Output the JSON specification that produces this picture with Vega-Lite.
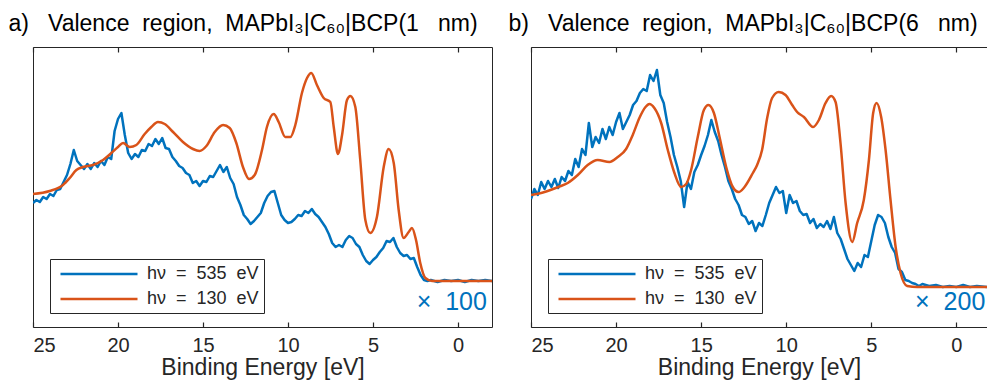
{
  "$schema": "https://vega.github.io/schema/vega-lite/v6.json",
  "padding": {"left": 7, "top": 12, "right": 0, "bottom": 0},
  "background": "white",
  "spacing": 14,
  "config": {
    "font": "Liberation Sans",
    "view": {"stroke": "#262626", "strokeWidth": 1},
    "axis": {"grid": false, "domain": false, "zindex": 2, "tickColor": "#262626", "labelColor": "#262626", "titleColor": "#262626", "titleFontWeight": "normal", "labelFontSize": 20, "titleFontSize": 23, "labelFont": "Liberation Sans", "titleFont": "Liberation Sans"},
    "title": {"fontSize": 23, "fontWeight": "normal", "color": "#000000", "anchor": "start", "font": "Liberation Sans"}
  },
  "datasets": {
    "a": [
      {"E":25.0,"I":124,"s":"535"},{"E":24.8,"I":127,"s":"535"},{"E":24.6,"I":125,"s":"535"},{"E":24.4,"I":130,"s":"535"},{"E":24.2,"I":128,"s":"535"},{"E":24.0,"I":133,"s":"535"},{"E":23.8,"I":131,"s":"535"},{"E":23.6,"I":137,"s":"535"},{"E":23.4,"I":138,"s":"535"},{"E":23.2,"I":145,"s":"535"},{"E":23.0,"I":152,"s":"535"},{"E":22.8,"I":163,"s":"535"},{"E":22.6,"I":177,"s":"535"},{"E":22.4,"I":166,"s":"535"},{"E":22.2,"I":162,"s":"535"},{"E":22.0,"I":158,"s":"535"},{"E":21.8,"I":163,"s":"535"},{"E":21.6,"I":158,"s":"535"},{"E":21.4,"I":164,"s":"535"},{"E":21.2,"I":160,"s":"535"},{"E":21.0,"I":166,"s":"535"},{"E":20.8,"I":162,"s":"535"},{"E":20.6,"I":170,"s":"535"},{"E":20.4,"I":168,"s":"535"},{"E":20.2,"I":196,"s":"535"},{"E":20.0,"I":208,"s":"535"},{"E":19.8,"I":214,"s":"535"},{"E":19.6,"I":192,"s":"535"},{"E":19.4,"I":174,"s":"535"},{"E":19.2,"I":168,"s":"535"},{"E":19.0,"I":173,"s":"535"},{"E":18.8,"I":170,"s":"535"},{"E":18.6,"I":177,"s":"535"},{"E":18.4,"I":176,"s":"535"},{"E":18.2,"I":183,"s":"535"},{"E":18.0,"I":181,"s":"535"},{"E":17.8,"I":188,"s":"535"},{"E":17.6,"I":183,"s":"535"},{"E":17.4,"I":189,"s":"535"},{"E":17.2,"I":179,"s":"535"},{"E":17.0,"I":178,"s":"535"},{"E":16.8,"I":170,"s":"535"},{"E":16.6,"I":166,"s":"535"},{"E":16.4,"I":161,"s":"535"},{"E":16.2,"I":159,"s":"535"},{"E":16.0,"I":154,"s":"535"},{"E":15.8,"I":152,"s":"535"},{"E":15.6,"I":144,"s":"535"},{"E":15.4,"I":146,"s":"535"},{"E":15.2,"I":141,"s":"535"},{"E":15.0,"I":146,"s":"535"},{"E":14.8,"I":145,"s":"535"},{"E":14.6,"I":151,"s":"535"},{"E":14.4,"I":150,"s":"535"},{"E":14.2,"I":156,"s":"535"},{"E":14.0,"I":162,"s":"535"},{"E":13.8,"I":155,"s":"535"},{"E":13.6,"I":160,"s":"535"},{"E":13.4,"I":149,"s":"535"},{"E":13.2,"I":143,"s":"535"},{"E":13.0,"I":130,"s":"535"},{"E":12.8,"I":122,"s":"535"},{"E":12.6,"I":112,"s":"535"},{"E":12.4,"I":108,"s":"535"},{"E":12.2,"I":103,"s":"535"},{"E":12.0,"I":106,"s":"535"},{"E":11.8,"I":110,"s":"535"},{"E":11.6,"I":114,"s":"535"},{"E":11.4,"I":124,"s":"535"},{"E":11.2,"I":131,"s":"535"},{"E":11.0,"I":135,"s":"535"},{"E":10.8,"I":136,"s":"535"},{"E":10.6,"I":124,"s":"535"},{"E":10.4,"I":112,"s":"535"},{"E":10.2,"I":107,"s":"535"},{"E":10.0,"I":104,"s":"535"},{"E":9.8,"I":105,"s":"535"},{"E":9.6,"I":108,"s":"535"},{"E":9.4,"I":112,"s":"535"},{"E":9.2,"I":111,"s":"535"},{"E":9.0,"I":116,"s":"535"},{"E":8.8,"I":114,"s":"535"},{"E":8.6,"I":118,"s":"535"},{"E":8.4,"I":113,"s":"535"},{"E":8.2,"I":110,"s":"535"},{"E":8.0,"I":105,"s":"535"},{"E":7.8,"I":100,"s":"535"},{"E":7.6,"I":93,"s":"535"},{"E":7.4,"I":84,"s":"535"},{"E":7.2,"I":80,"s":"535"},{"E":7.0,"I":82,"s":"535"},{"E":6.8,"I":80,"s":"535"},{"E":6.6,"I":87,"s":"535"},{"E":6.4,"I":91,"s":"535"},{"E":6.2,"I":89,"s":"535"},{"E":6.0,"I":83,"s":"535"},{"E":5.8,"I":80,"s":"535"},{"E":5.6,"I":72,"s":"535"},{"E":5.4,"I":66,"s":"535"},{"E":5.2,"I":63,"s":"535"},{"E":5.0,"I":67,"s":"535"},{"E":4.8,"I":70,"s":"535"},{"E":4.6,"I":75,"s":"535"},{"E":4.4,"I":79,"s":"535"},{"E":4.2,"I":86,"s":"535"},{"E":4.0,"I":85,"s":"535"},{"E":3.8,"I":89,"s":"535"},{"E":3.6,"I":80,"s":"535"},{"E":3.4,"I":74,"s":"535"},{"E":3.2,"I":71,"s":"535"},{"E":3.0,"I":72,"s":"535"},{"E":2.8,"I":68,"s":"535"},{"E":2.6,"I":69,"s":"535"},{"E":2.4,"I":60,"s":"535"},{"E":2.2,"I":52,"s":"535"},{"E":2.0,"I":47,"s":"535"},{"E":1.8,"I":46,"s":"535"},{"E":1.6,"I":47,"s":"535"},{"E":1.2,"I":45,"s":"535"},{"E":0.8,"I":47,"s":"535"},{"E":0.4,"I":46,"s":"535"},{"E":0.0,"I":47,"s":"535"},{"E":-0.4,"I":45,"s":"535"},{"E":-0.8,"I":47,"s":"535"},{"E":-1.2,"I":46,"s":"535"},{"E":-1.6,"I":47,"s":"535"},{"E":-2.0,"I":46,"s":"535"},
      {"E":25,"I":133,"s":"130"},{"E":24.02,"I":136,"s":"130"},{"E":23.24,"I":142,"s":"130"},{"E":22.84,"I":149,"s":"130"},{"E":22.45,"I":157,"s":"130"},{"E":22.06,"I":160,"s":"130"},{"E":21.47,"I":162,"s":"130"},{"E":20.88,"I":167,"s":"130"},{"E":20.39,"I":174,"s":"130"},{"E":20.0,"I":180,"s":"130"},{"E":19.7,"I":184,"s":"130"},{"E":19.31,"I":180,"s":"130"},{"E":18.92,"I":182,"s":"130"},{"E":18.43,"I":193,"s":"130"},{"E":18.04,"I":200,"s":"130"},{"E":17.65,"I":205,"s":"130"},{"E":17.25,"I":203,"s":"130"},{"E":16.76,"I":195,"s":"130"},{"E":16.18,"I":185,"s":"130"},{"E":15.59,"I":178,"s":"130"},{"E":15.2,"I":176,"s":"130"},{"E":14.8,"I":181,"s":"130"},{"E":14.31,"I":195,"s":"130"},{"E":13.82,"I":202,"s":"130"},{"E":13.43,"I":199,"s":"130"},{"E":13.04,"I":184,"s":"130"},{"E":12.65,"I":160,"s":"130"},{"E":12.29,"I":148,"s":"130"},{"E":11.96,"I":152,"s":"130"},{"E":11.53,"I":177,"s":"130"},{"E":11.24,"I":200,"s":"130"},{"E":10.84,"I":213,"s":"130"},{"E":10.55,"I":205,"s":"130"},{"E":10.16,"I":190,"s":"130"},{"E":9.86,"I":190,"s":"130"},{"E":9.57,"I":202,"s":"130"},{"E":9.18,"I":234,"s":"130"},{"E":8.88,"I":249,"s":"130"},{"E":8.63,"I":254,"s":"130"},{"E":8.3,"I":242,"s":"130"},{"E":7.9,"I":229,"s":"130"},{"E":7.51,"I":225,"s":"130"},{"E":7.31,"I":200,"s":"130"},{"E":7.06,"I":173,"s":"130"},{"E":6.82,"I":192,"s":"130"},{"E":6.53,"I":227,"s":"130"},{"E":6.33,"I":231,"s":"130"},{"E":6.04,"I":220,"s":"130"},{"E":5.75,"I":167,"s":"130"},{"E":5.45,"I":107,"s":"130"},{"E":5.16,"I":94,"s":"130"},{"E":4.77,"I":110,"s":"130"},{"E":4.37,"I":160,"s":"130"},{"E":4.08,"I":178,"s":"130"},{"E":3.78,"I":164,"s":"130"},{"E":3.49,"I":117,"s":"130"},{"E":3.2,"I":89,"s":"130"},{"E":2.9,"I":95,"s":"130"},{"E":2.71,"I":99,"s":"130"},{"E":2.47,"I":87,"s":"130"},{"E":2.22,"I":64,"s":"130"},{"E":1.92,"I":49,"s":"130"},{"E":1.53,"I":46,"s":"130"},{"E":-2,"I":46,"s":"130"}
    ],
    "b": [
      {"E":25.0,"I":128,"s":"535"},{"E":24.8,"I":138,"s":"535"},{"E":24.6,"I":132,"s":"535"},{"E":24.4,"I":145,"s":"535"},{"E":24.2,"I":138,"s":"535"},{"E":24.0,"I":146,"s":"535"},{"E":23.8,"I":140,"s":"535"},{"E":23.6,"I":148,"s":"535"},{"E":23.4,"I":139,"s":"535"},{"E":23.2,"I":150,"s":"535"},{"E":23.0,"I":146,"s":"535"},{"E":22.8,"I":156,"s":"535"},{"E":22.6,"I":152,"s":"535"},{"E":22.4,"I":168,"s":"535"},{"E":22.2,"I":160,"s":"535"},{"E":22.0,"I":178,"s":"535"},{"E":21.8,"I":172,"s":"535"},{"E":21.6,"I":204,"s":"535"},{"E":21.4,"I":180,"s":"535"},{"E":21.2,"I":190,"s":"535"},{"E":21.0,"I":184,"s":"535"},{"E":20.8,"I":198,"s":"535"},{"E":20.6,"I":188,"s":"535"},{"E":20.4,"I":200,"s":"535"},{"E":20.2,"I":192,"s":"535"},{"E":20.0,"I":205,"s":"535"},{"E":19.8,"I":214,"s":"535"},{"E":19.6,"I":198,"s":"535"},{"E":19.4,"I":205,"s":"535"},{"E":19.2,"I":212,"s":"535"},{"E":19.0,"I":222,"s":"535"},{"E":18.8,"I":226,"s":"535"},{"E":18.6,"I":234,"s":"535"},{"E":18.4,"I":238,"s":"535"},{"E":18.2,"I":236,"s":"535"},{"E":18.0,"I":252,"s":"535"},{"E":17.8,"I":246,"s":"535"},{"E":17.6,"I":257,"s":"535"},{"E":17.4,"I":232,"s":"535"},{"E":17.2,"I":224,"s":"535"},{"E":17.0,"I":205,"s":"535"},{"E":16.8,"I":190,"s":"535"},{"E":16.6,"I":172,"s":"535"},{"E":16.4,"I":160,"s":"535"},{"E":16.2,"I":146,"s":"535"},{"E":16.0,"I":120,"s":"535"},{"E":15.8,"I":145,"s":"535"},{"E":15.6,"I":138,"s":"535"},{"E":15.4,"I":155,"s":"535"},{"E":15.2,"I":162,"s":"535"},{"E":15.0,"I":172,"s":"535"},{"E":14.8,"I":181,"s":"535"},{"E":14.6,"I":192,"s":"535"},{"E":14.4,"I":207,"s":"535"},{"E":14.2,"I":195,"s":"535"},{"E":14.0,"I":186,"s":"535"},{"E":13.8,"I":172,"s":"535"},{"E":13.6,"I":160,"s":"535"},{"E":13.4,"I":146,"s":"535"},{"E":13.2,"I":138,"s":"535"},{"E":13.0,"I":128,"s":"535"},{"E":12.8,"I":122,"s":"535"},{"E":12.6,"I":112,"s":"535"},{"E":12.4,"I":110,"s":"535"},{"E":12.2,"I":103,"s":"535"},{"E":12.0,"I":106,"s":"535"},{"E":11.8,"I":96,"s":"535"},{"E":11.6,"I":104,"s":"535"},{"E":11.4,"I":101,"s":"535"},{"E":11.2,"I":112,"s":"535"},{"E":11.0,"I":124,"s":"535"},{"E":10.8,"I":132,"s":"535"},{"E":10.6,"I":140,"s":"535"},{"E":10.4,"I":134,"s":"535"},{"E":10.2,"I":136,"s":"535"},{"E":10.0,"I":114,"s":"535"},{"E":9.8,"I":132,"s":"535"},{"E":9.6,"I":124,"s":"535"},{"E":9.4,"I":126,"s":"535"},{"E":9.2,"I":116,"s":"535"},{"E":9.0,"I":112,"s":"535"},{"E":8.8,"I":113,"s":"535"},{"E":8.6,"I":104,"s":"535"},{"E":8.4,"I":108,"s":"535"},{"E":8.2,"I":99,"s":"535"},{"E":8.0,"I":103,"s":"535"},{"E":7.8,"I":100,"s":"535"},{"E":7.6,"I":106,"s":"535"},{"E":7.4,"I":98,"s":"535"},{"E":7.2,"I":110,"s":"535"},{"E":7.0,"I":94,"s":"535"},{"E":6.8,"I":88,"s":"535"},{"E":6.6,"I":78,"s":"535"},{"E":6.4,"I":68,"s":"535"},{"E":6.2,"I":62,"s":"535"},{"E":6.0,"I":56,"s":"535"},{"E":5.8,"I":64,"s":"535"},{"E":5.6,"I":60,"s":"535"},{"E":5.4,"I":72,"s":"535"},{"E":5.2,"I":70,"s":"535"},{"E":5.0,"I":86,"s":"535"},{"E":4.8,"I":102,"s":"535"},{"E":4.6,"I":112,"s":"535"},{"E":4.4,"I":110,"s":"535"},{"E":4.2,"I":104,"s":"535"},{"E":4.0,"I":90,"s":"535"},{"E":3.8,"I":80,"s":"535"},{"E":3.6,"I":74,"s":"535"},{"E":3.4,"I":58,"s":"535"},{"E":3.2,"I":55,"s":"535"},{"E":3.0,"I":47,"s":"535"},{"E":2.8,"I":46,"s":"535"},{"E":2.6,"I":44,"s":"535"},{"E":2.4,"I":43,"s":"535"},{"E":2.2,"I":41,"s":"535"},{"E":2.0,"I":43,"s":"535"},{"E":1.6,"I":41,"s":"535"},{"E":1.2,"I":42,"s":"535"},{"E":0.8,"I":40,"s":"535"},{"E":0.4,"I":41,"s":"535"},{"E":0.0,"I":40,"s":"535"},{"E":-0.4,"I":42,"s":"535"},{"E":-0.8,"I":40,"s":"535"},{"E":-1.2,"I":41,"s":"535"},{"E":-1.8,"I":40,"s":"535"},
      {"E":25,"I":132,"s":"130"},{"E":24.2,"I":135,"s":"130"},{"E":23.4,"I":140,"s":"130"},{"E":22.84,"I":144,"s":"130"},{"E":22.25,"I":152,"s":"130"},{"E":21.67,"I":162,"s":"130"},{"E":21.08,"I":167,"s":"130"},{"E":20.39,"I":165,"s":"130"},{"E":19.9,"I":170,"s":"130"},{"E":19.41,"I":178,"s":"130"},{"E":19.02,"I":192,"s":"130"},{"E":18.63,"I":209,"s":"130"},{"E":18.27,"I":220,"s":"130"},{"E":18.04,"I":223,"s":"130"},{"E":17.75,"I":219,"s":"130"},{"E":17.35,"I":204,"s":"130"},{"E":16.96,"I":177,"s":"130"},{"E":16.57,"I":154,"s":"130"},{"E":16.18,"I":140,"s":"130"},{"E":15.88,"I":143,"s":"130"},{"E":15.59,"I":157,"s":"130"},{"E":15.2,"I":190,"s":"130"},{"E":14.84,"I":217,"s":"130"},{"E":14.57,"I":222,"s":"130"},{"E":14.25,"I":214,"s":"130"},{"E":13.92,"I":190,"s":"130"},{"E":13.53,"I":160,"s":"130"},{"E":13.14,"I":140,"s":"130"},{"E":12.8,"I":135,"s":"130"},{"E":12.45,"I":140,"s":"130"},{"E":11.96,"I":154,"s":"130"},{"E":11.71,"I":162,"s":"130"},{"E":11.42,"I":177,"s":"130"},{"E":11.12,"I":209,"s":"130"},{"E":10.83,"I":229,"s":"130"},{"E":10.44,"I":235,"s":"130"},{"E":10.04,"I":232,"s":"130"},{"E":9.65,"I":222,"s":"130"},{"E":9.36,"I":215,"s":"130"},{"E":8.96,"I":210,"s":"130"},{"E":8.42,"I":200,"s":"130"},{"E":8.08,"I":207,"s":"130"},{"E":7.69,"I":224,"s":"130"},{"E":7.36,"I":231,"s":"130"},{"E":7.1,"I":225,"s":"130"},{"E":6.81,"I":184,"s":"130"},{"E":6.51,"I":124,"s":"130"},{"E":6.12,"I":85,"s":"130"},{"E":5.83,"I":104,"s":"130"},{"E":5.44,"I":127,"s":"130"},{"E":5.14,"I":167,"s":"130"},{"E":4.89,"I":214,"s":"130"},{"E":4.69,"I":224,"s":"130"},{"E":4.42,"I":210,"s":"130"},{"E":4.16,"I":177,"s":"130"},{"E":3.87,"I":127,"s":"130"},{"E":3.57,"I":80,"s":"130"},{"E":3.28,"I":54,"s":"130"},{"E":2.89,"I":41,"s":"130"},{"E":2.3,"I":40,"s":"130"},{"E":-1.8,"I":40,"s":"130"}
    ]
  },
  "hconcat": [
    {
      "width": 459, "height": 280,
      "title": {"text": "a)\u00a0\u00a0\u00a0Valence\u00a0\u00a0region,\u00a0\u00a0MAPbI₃|C₆₀|BCP(1\u00a0\u00a0\u00a0nm)", "dx": -24, "offset": 10},
      "data": {"name": "a"},
      "layer": [
        {
          "transform": [{"filter": "datum.s == '535'"}],
          "mark": {"type": "line", "strokeWidth": 2.5, "clip": true, "strokeJoin": "round"},
          "encoding": {
            "x": {"field": "E", "type": "quantitative", "scale": {"domain": [-2, 25], "reverse": true, "nice": false, "zero": false},
                  "axis": {"orient": "bottom", "values": [25, 20, 15, 10, 5, 0], "format": "d", "offset": -5, "tickSize": 5, "tickWidth": 1.2, "labelPadding": 8.5, "title": "Binding Energy [eV]", "titlePadding": 1}},
            "y": {"field": "I", "type": "quantitative", "scale": {"domain": [0, 280], "nice": false, "zero": false},
                  "axis": {"title": "Intensity", "ticks": false, "labels": false, "titlePadding": 7}},
            "color": {"field": "s", "type": "nominal", "scale": {"domain": ["535", "130"], "range": ["#0072BD", "#D95319"]},
                      "legend": {"orient": "none", "legendX": 17, "legendY": 212, "title": null, "direction": "vertical", "strokeColor": "#262626", "fillColor": "white", "padding": 5, "symbolType": "M-0.53,0H8.53", "symbolSize": 289, "symbolStrokeWidth": 2.5, "labelFontSize": 18, "labelColor": "#262626", "labelOffset": 72, "rowPadding": 6, "labelExpr": "'hν\u00a0\u00a0=\u00a0\u00a0' + datum.label + '\u00a0\u00a0eV'"}}
          }
        },
        {
          "transform": [{"filter": "datum.s == '130'"}],
          "mark": {"type": "line", "strokeWidth": 2.5, "clip": true, "interpolate": "monotone"},
          "encoding": {
            "x": {"field": "E", "type": "quantitative", "scale": {"domain": [-2, 25], "reverse": true, "nice": false, "zero": false}, "axis": null},
            "y": {"field": "I", "type": "quantitative", "axis": null},
            "color": {"field": "s", "type": "nominal"}
          }
        },
        {
          "data": {"values": [{"E": -1.7, "I": 17, "t": "×\u00a0\u00a0100"}]},
          "mark": {"type": "text", "align": "right", "baseline": "alphabetic", "fontSize": 25, "color": "#0072BD"},
          "encoding": {
            "x": {"field": "E", "type": "quantitative", "scale": {"domain": [-2, 25], "reverse": true, "nice": false, "zero": false},
                  "axis": {"orient": "top", "labels": false, "title": null, "values": [25, 20, 15, 10, 5, 0], "offset": -5, "tickSize": 5, "tickWidth": 1.2}},
            "y": {"field": "I", "type": "quantitative", "axis": null},
            "text": {"field": "t"}
          }
        }
      ],
      "resolve": {"axis": {"x": "independent"}}
    },
    {
      "width": 456, "height": 280,
      "title": {"text": "b)\u00a0\u00a0\u00a0Valence\u00a0\u00a0region,\u00a0\u00a0MAPbI₃|C₆₀|BCP(6\u00a0\u00a0\u00a0nm)", "dx": -22, "offset": 10},
      "data": {"name": "b"},
      "layer": [
        {
          "transform": [{"filter": "datum.s == '535'"}],
          "mark": {"type": "line", "strokeWidth": 2.5, "clip": true, "strokeJoin": "round"},
          "encoding": {
            "x": {"field": "E", "type": "quantitative", "scale": {"domain": [-1.8, 25], "reverse": true, "nice": false, "zero": false},
                  "axis": {"orient": "bottom", "values": [25, 20, 15, 10, 5, 0], "format": "d", "offset": -5, "tickSize": 5, "tickWidth": 1.2, "labelPadding": 8.5, "title": "Binding Energy [eV]", "titlePadding": 1}},
            "y": {"field": "I", "type": "quantitative", "scale": {"domain": [0, 280], "nice": false, "zero": false},
                  "axis": {"title": "Intensity", "ticks": false, "labels": false, "titlePadding": 7}},
            "color": {"field": "s", "type": "nominal", "scale": {"domain": ["535", "130"], "range": ["#0072BD", "#D95319"]},
                      "legend": {"orient": "none", "legendX": 17, "legendY": 212, "title": null, "direction": "vertical", "strokeColor": "#262626", "fillColor": "white", "padding": 5, "symbolType": "M-0.53,0H8.53", "symbolSize": 289, "symbolStrokeWidth": 2.5, "labelFontSize": 18, "labelColor": "#262626", "labelOffset": 72, "rowPadding": 6, "labelExpr": "'hν\u00a0\u00a0=\u00a0\u00a0' + datum.label + '\u00a0\u00a0eV'"}}
          }
        },
        {
          "transform": [{"filter": "datum.s == '130'"}],
          "mark": {"type": "line", "strokeWidth": 2.5, "clip": true, "interpolate": "monotone"},
          "encoding": {
            "x": {"field": "E", "type": "quantitative", "scale": {"domain": [-1.8, 25], "reverse": true, "nice": false, "zero": false}, "axis": null},
            "y": {"field": "I", "type": "quantitative", "axis": null},
            "color": {"field": "s", "type": "nominal"}
          }
        },
        {
          "data": {"values": [{"E": -1.7, "I": 17, "t": "×\u00a0\u00a0200"}]},
          "mark": {"type": "text", "align": "right", "baseline": "alphabetic", "fontSize": 25, "color": "#0072BD"},
          "encoding": {
            "x": {"field": "E", "type": "quantitative", "scale": {"domain": [-1.8, 25], "reverse": true, "nice": false, "zero": false},
                  "axis": {"orient": "top", "labels": false, "title": null, "values": [25, 20, 15, 10, 5, 0], "offset": -5, "tickSize": 5, "tickWidth": 1.2}},
            "y": {"field": "I", "type": "quantitative", "axis": null},
            "text": {"field": "t"}
          }
        }
      ],
      "resolve": {"axis": {"x": "independent"}}
    }
  ],
  "resolve": {"scale": {"color": "independent", "x": "independent", "y": "independent"}, "legend": {"color": "independent"}}
}
